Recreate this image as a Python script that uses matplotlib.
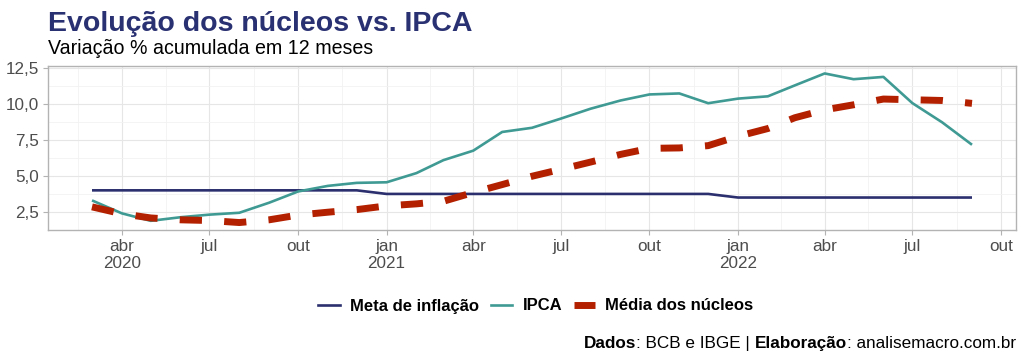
import matplotlib
matplotlib.use("Agg")
import matplotlib.pyplot as plt
import matplotlib.dates as mdates
from matplotlib.lines import Line2D
import numpy as np
import pandas as pd

plt.rcParams['font.family'] = ['Liberation Sans', 'DejaVu Sans']

# ---- data ----
dates = pd.date_range("2020-03-01", "2022-09-01", freq="MS")
meta = [4.0]*10 + [3.75]*12 + [3.5]*9
ipca = [3.30, 2.40, 1.88, 2.13, 2.31, 2.44, 3.14, 3.92, 4.31, 4.52,
        4.56, 5.20, 6.10, 6.76, 8.06, 8.35, 8.99, 9.68, 10.25, 10.67, 10.74, 10.06,
        10.38, 10.54, 11.30, 12.13, 11.73, 11.89, 10.07, 8.73, 7.17]
nucleos = [2.85, 2.37, 2.08, 1.95, 1.90, 1.76, 1.95, 2.28, 2.48, 2.66,
           2.92, 3.06, 3.24, 3.85, 4.40, 4.98, 5.46, 5.97, 6.50, 6.92, 6.95, 7.11,
           7.76, 8.30, 9.05, 9.60, 9.95, 10.35, 10.30, 10.25, 10.05]
series_names = ["Meta de inflação", "IPCA", "Média dos núcleos"]
month_labels = ["jan", "fev", "mar", "abr", "mai", "jun", "jul", "ago", "set", "out", "nov", "dez"]
yticks = [2.5, 5.0, 7.5, 10.0, 12.5]

c_meta = "#2b2f6e"
c_ipca = "#3f9a94"
c_nuc = "#b32000"
c_title = "#2a3172"

fig = plt.figure(figsize=(10.24, 3.58), dpi=100)
ax = fig.add_axes([48/1024, 1-230/358, (1016-48)/1024, (230-66)/358])

ax.plot(dates, meta, color=c_meta, lw=1.9, solid_capstyle='butt')
ax.plot(dates, ipca, color=c_ipca, lw=1.9, solid_capstyle='butt')
ax.plot(dates, nucleos, color=c_nuc, lw=5.0, linestyle=(0, (3.2, 3.2)),
        dash_capstyle='butt')

# limits with ggplot-like expansion
d0, d1 = mdates.date2num(dates[0]), mdates.date2num(dates[-1])
pad = 0.05*(d1-d0)
ax.set_xlim(d0-pad, d1+pad)
allv = meta + ipca + nucleos
lo, hi = min(allv), max(allv)
ypad = 0.05*(hi-lo)
ax.set_ylim(lo-ypad, hi+ypad)

# x ticks quarterly
ticks = pd.date_range("2020-04-01", "2022-10-01", freq="QS-JAN")
labels = []
for i, t in enumerate(ticks):
    lab = month_labels[t.month-1]
    if i == 0 or t.month == 1:
        lab += "\n" + str(t.year)
    labels.append(lab)
ax.set_xticks([mdates.date2num(t) for t in ticks])
ax.set_xticklabels(labels)
tk = [mdates.date2num(t) for t in ticks]
minors = [tk[0] - (tk[1]-tk[0])/2] + [(a+b)/2 for a, b in zip(tk[:-1], tk[1:])]
ax.set_xticks(minors, minor=True)

ax.set_yticks(yticks)
ax.set_yticklabels([f"{v:.1f}".replace(".", ",") for v in yticks])
ax.set_yticks([1.25, 3.75, 6.25, 8.75, 11.25], minor=True)

ax.grid(which='major', color="#e6e6e6", lw=0.8)
ax.grid(which='minor', color="#f2f2f2", lw=0.6)
ax.set_axisbelow(True)
for s in ax.spines.values():
    s.set_color("#b3b3b3")
    s.set_linewidth(1.0)
ax.tick_params(which='both', length=0)
ax.tick_params(which='major', axis='both', length=3.5, color="#b3b3b3", width=0.8)
ax.tick_params(axis='both', labelsize=12.3, labelcolor="#4d4d4d", pad=3)

# title and subtitle
fig.text(48/1024, 1-31/358, "Evolução dos núcleos vs. IPCA", fontsize=20.5,
         fontweight='bold', color=c_title, ha='left', va='baseline')
fig.text(48/1024, 1-54/358, "Variação % acumulada em 12 meses", fontsize=14.1,
         color="black", ha='left', va='baseline')

handles = [Line2D([], [], color=c_meta, lw=1.9),
           Line2D([], [], color=c_ipca, lw=1.9),
           Line2D([], [], color=c_nuc, lw=5.0, solid_capstyle='butt')]
leg = fig.legend(handles, series_names, loc='center', bbox_to_anchor=(536/1024, 1-306/358), ncol=3,
                 frameon=False, prop={'weight': 'bold', 'size': 12},
                 handlelength=1.3, handletextpad=0.6, columnspacing=0.7)

# caption with mixed bold
fig.canvas.draw()
renderer = fig.canvas.get_renderer()
parts = [("Dados", 'bold'), (": BCB e IBGE | ", 'normal'), ("Elaboração", 'bold'),
         (": analisemacro.com.br", 'normal')]
x_right = 1016
ybase = 1-348/358
x = x_right
for txt, w in reversed(parts):
    t = fig.text(0, ybase, txt, fontsize=12.35, fontweight=w, ha='left', va='baseline')
    bb = t.get_window_extent(renderer)
    x -= bb.width
    t.set_x(x/1024)

fig.savefig("out.png", dpi=100)
